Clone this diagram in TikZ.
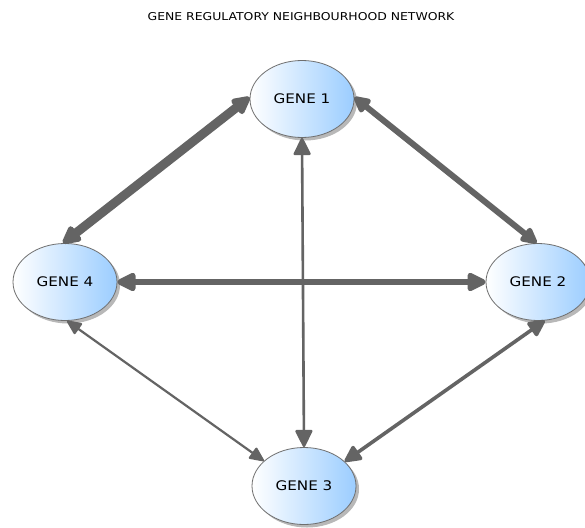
\documentclass[tikz,border=0pt]{standalone}
\usepackage{fontspec}
\setmainfont{DejaVu Sans}[FakeStretch=1.15]
\usetikzlibrary{arrows.meta,shapes.geometric,shadows}
\definecolor{bluegene}{RGB}{155,205,255}
\definecolor{edgegray}{RGB}{100,100,100}
\definecolor{rimgray}{RGB}{110,110,110}
\begin{document}
\begin{tikzpicture}[x=1pt,y=-1pt,
  gene/.style={ellipse, minimum width=104pt, minimum height=77pt, inner sep=0pt,
    draw=rimgray, line width=0.8pt, left color=white, right color=bluegene,
    font=\fontsize{13.2}{15}\selectfont,
    drop shadow={shadow xshift=3pt, shadow yshift=-3pt, fill=black!28, opacity=1}},
  link/.style n args={3}{draw=edgegray, line width=#1,
    arrows={Triangle[round,length=#2,width=#3]-Triangle[round,length=#2,width=#3]}},
  titletext/.style={font=\fontsize{10.8}{12}\selectfont}]
\useasboundingbox (0,0) rectangle (585,527);
\fill[white] (0,0) rectangle (585,527);
\node[titletext] (title) at (301,17) {GENE REGULATORY NEIGHBOURHOOD NETWORK};
\node[gene] (g1) at (302,99) {GENE 1};
\node[gene] (g4) at (65,282) {GENE 4};
\node[gene] (g2) at (538,282) {GENE 2};
\node[gene] (g3) at (304,486) {GENE 3};
\draw[link={9pt}{21pt}{20pt}] (g1.178) -- (g4.93);
\draw[link={6pt}{19pt}{18pt}] (g1.2) -- (g2.92);
\draw[link={6pt}{22pt}{20pt}] (g4.east) -- (g2.west);
\draw[link={2.6pt}{19pt}{18pt}] (g1.south) -- (g3.north);
\draw[link={2.2pt}{16pt}{14pt}] (g4.-87) -- (g3.148);
\draw[link={3.6pt}{19pt}{18pt}] (g2.-80) -- (g3.31);
\end{tikzpicture}
\end{document}
